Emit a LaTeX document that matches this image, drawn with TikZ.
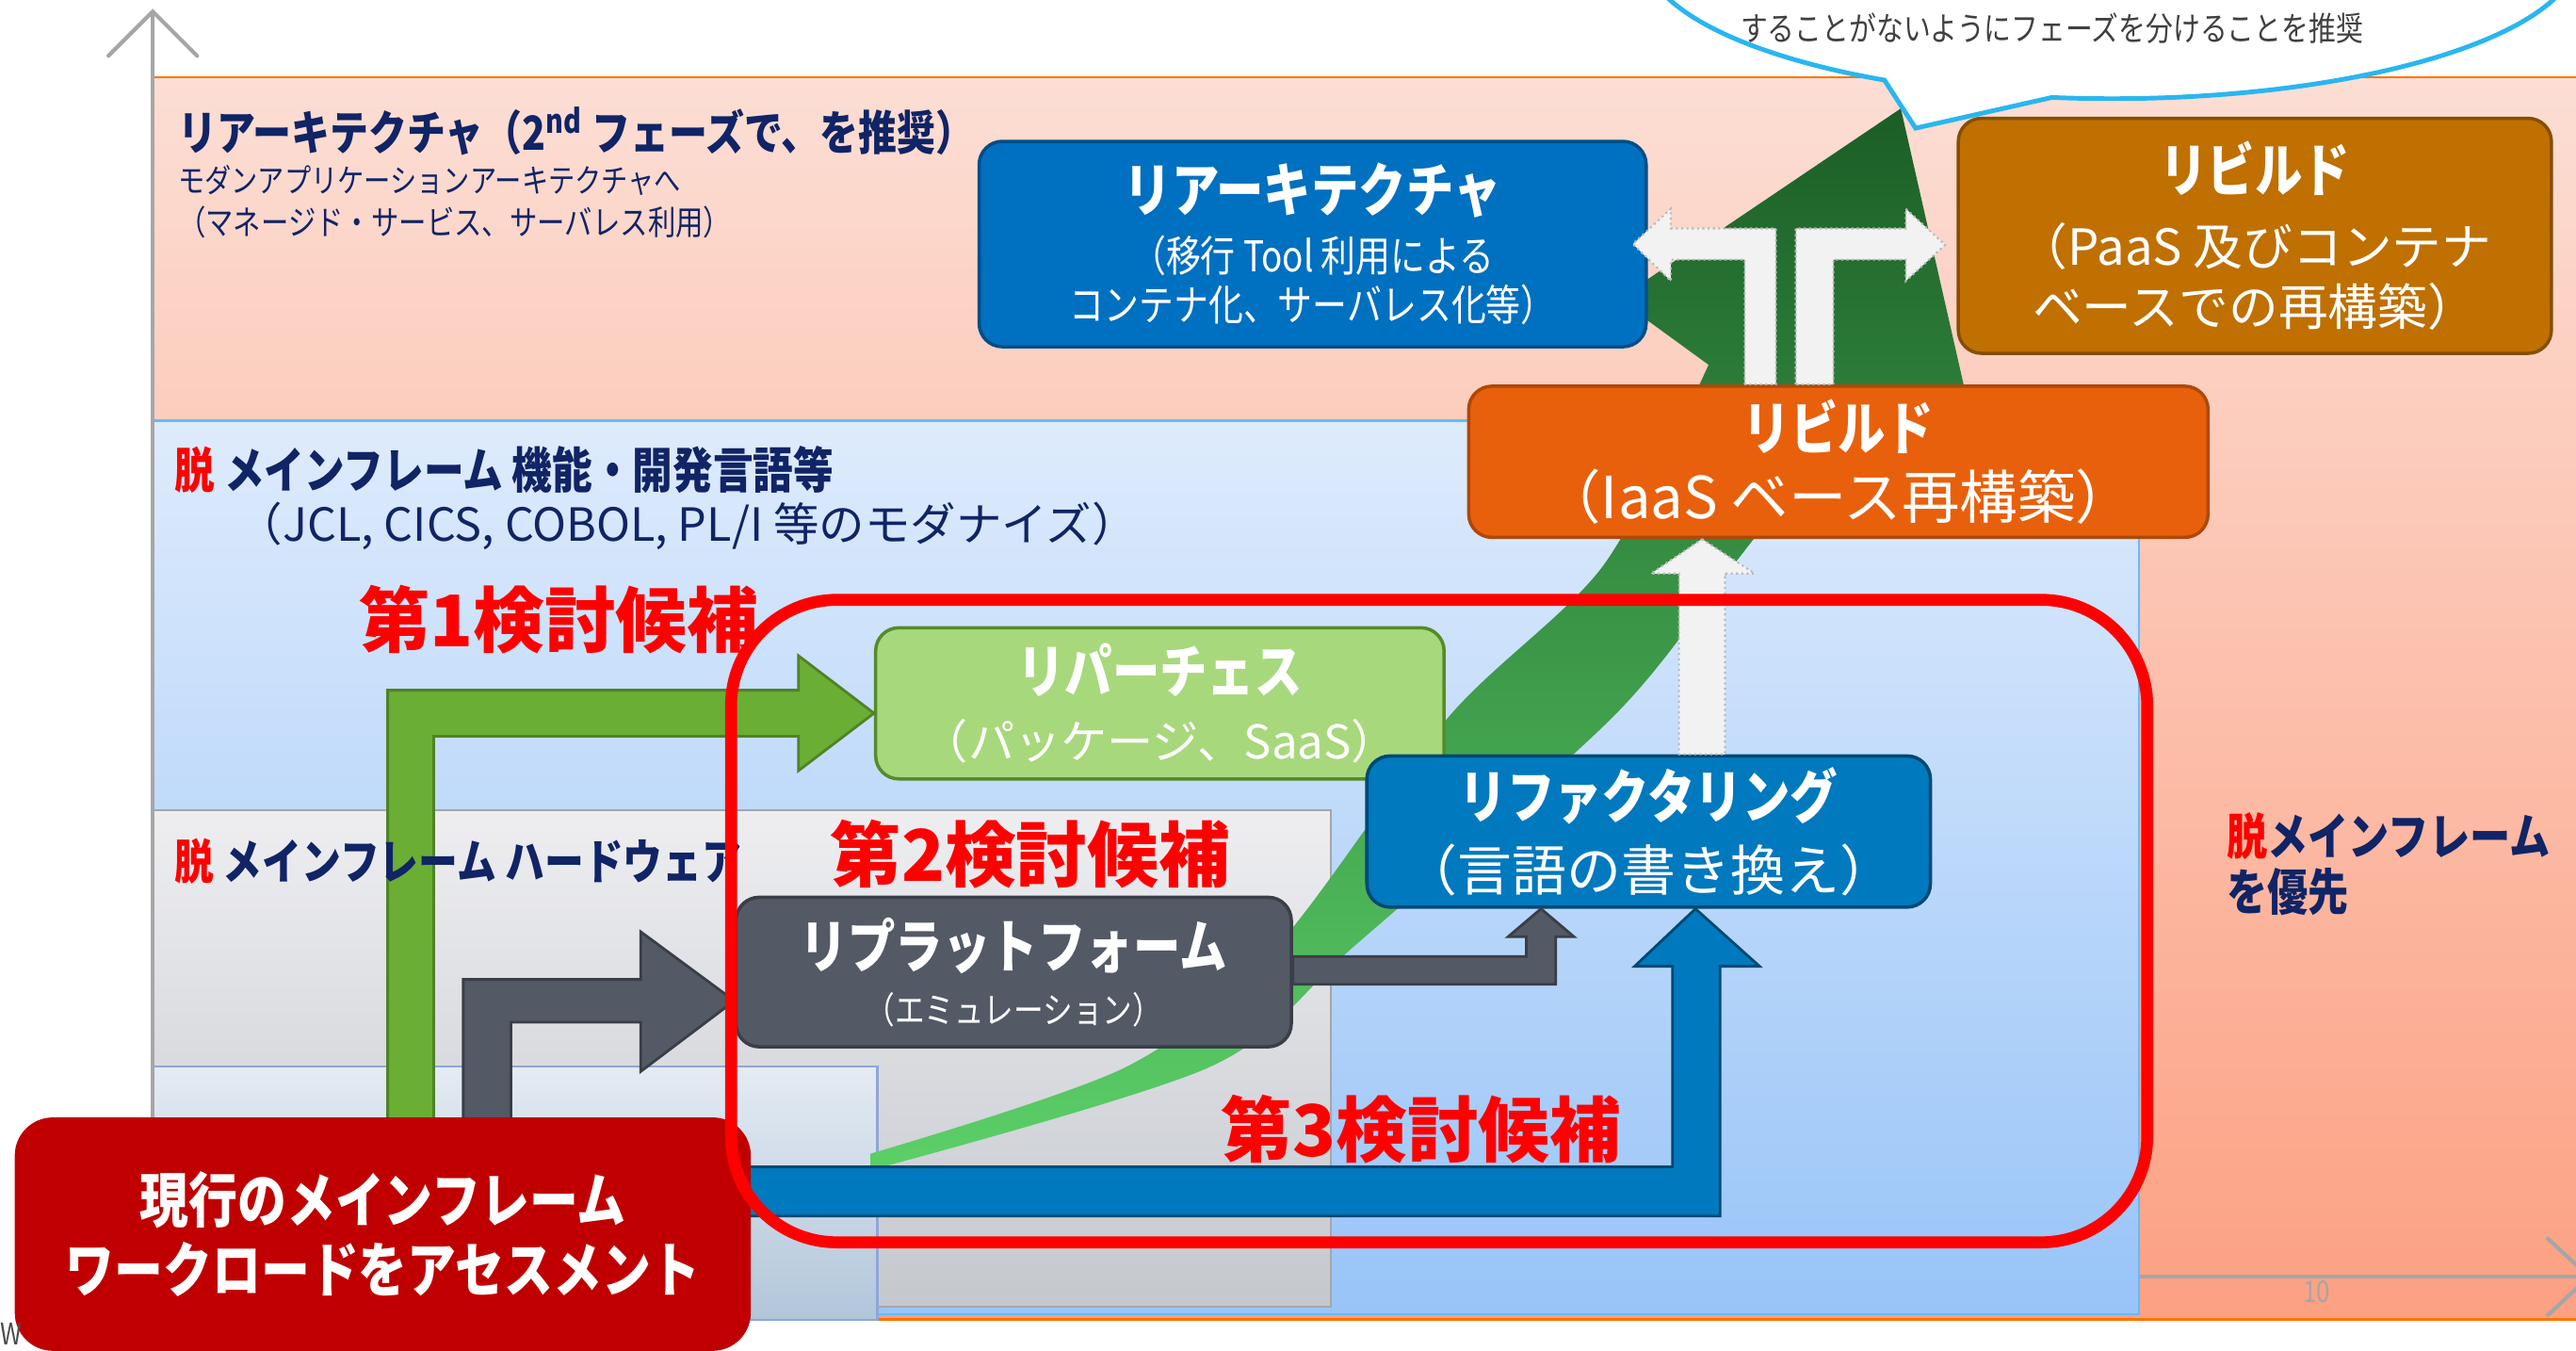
\documentclass[tikz,border=0pt]{standalone}
\usepackage{fontspec}
\setmainfont{Noto Sans CJK JP}[FakeStretch=0.82]
\newfontfamily\widejp{Noto Sans CJK JP}
\usetikzlibrary{positioning}

\definecolor{navy}{RGB}{16,36,102}
\definecolor{reablue}{RGB}{0,112,192}
\definecolor{paasgold}{RGB}{191,112,0}
\definecolor{iaasorange}{RGB}{232,96,12}
\definecolor{repgreen}{RGB}{168,216,124}
\definecolor{rplgrey}{RGB}{83,89,101}
\definecolor{refblue}{RGB}{0,121,190}
\definecolor{curred}{RGB}{192,0,0}
\definecolor{arrgreen}{RGB}{106,174,52}
\definecolor{callblue}{RGB}{41,182,240}
\definecolor{axisgrey}{RGB}{166,166,166}
\definecolor{whitearr}{RGB}{242,242,242}
\definecolor{sweeplight}{RGB}{92,208,104}
\definecolor{sweepmid}{RGB}{60,158,72}
\definecolor{sweepdark}{RGB}{27,94,39}
\definecolor{pinktop}{RGB}{252,222,212}
\definecolor{pinkbot}{RGB}{252,160,130}
\definecolor{bluetop}{RGB}{222,235,252}
\definecolor{bluebot}{RGB}{152,196,248}
\definecolor{greytop}{RGB}{238,238,241}
\definecolor{greybot}{RGB}{196,200,206}
\definecolor{lighttop}{RGB}{228,235,243}
\definecolor{lightbot}{RGB}{178,198,218}

\newlength\unitpx
\setlength\unitpx{0.017443cm}
\newcommand\fs[2]{\fontsize{#1}{#2}\selectfont}
\newcommand\boxtitle[1]{{\rmfamily\bfseries\fs{17.5}{20}#1}}

\begin{document}
\begin{tikzpicture}[x=0.017443cm, y=-0.017443cm,
    box/.style={rounded corners=7pt, line width=1pt, text=white, align=center, inner sep=0pt},
    boxsize/.style 2 args={minimum width=#1*\unitpx, minimum height=#2*\unitpx},
    band/.style={anchor=west, text=navy, inner sep=0pt},
    pick/.style={text=red, font=\widejp\bfseries\fs{21.5}{24}},
    blockarrow/.style={line width=0.8pt, line join=miter},
    whitearrow/.style={fill=whitearr, draw=gray!55, line width=0.6pt, densely dotted}]
    \useasboundingbox (0,0) rectangle (1568,822);

    % background bands
    \shade[top color=pinktop, bottom color=pinkbot] (93,47) rectangle (1568,803);
    \draw[orange!90!red, line width=0.8pt] (93,47) -- (1568,47);
    \draw[orange!90!red, line width=0.8pt] (93,803) -- (1568,803);
    \draw[axisgrey, line width=1.2pt] (93,777) -- (1580,777);
    \draw[axisgrey, line width=1.2pt] (1550,753) -- (1576,777) -- (1550,801);
    \shade[top color=bluetop, bottom color=bluebot, draw=blue!45!cyan!60, line width=0.6pt] (93,256) rectangle (1302,800);
    \shade[top color=greytop, bottom color=greybot, draw=gray!70, line width=0.6pt] (93,493) rectangle (810,795);
    \shade[top color=lighttop, bottom color=lightbot, draw=cyan!40!blue!45, line width=0.6pt] (93,649) rectangle (534,803);
    \draw[axisgrey, line width=1.2pt] (93,803) -- (93,8);
    \draw[axisgrey, line width=1.2pt, line cap=round] (66,34) -- (93,7) -- (120,34);

    % growth sweep
    \shade[top color=sweepdark, middle color=sweepmid, bottom color=sweeplight]
        plot[smooth] coordinates {(530,712) (737,649) (824,576) (982,436) (1055,344) (1118,262)}
        -- (1200,255) -- (1157,66) -- (985,182) -- (1040,222)
        -- plot[smooth] coordinates {(1040,222) (976,344) (882,436) (777,576) (686,649) (530,702)} -- cycle;

    % options
    \node[box, boxsize={406}{125}, fill=reablue, draw=reablue!70!black, font=\fs{12.8}{14.8}] (rea) at (799,148.5)
        {\boxtitle{リアーキテクチャ}\\[3.5pt] （移行 Tool 利用による\\ コンテナ化、サーバレス化等）};
    \node[box, boxsize={361}{143}, fill=paasgold, draw=paasgold!70!black, font=\widejp\fs{15}{18.3}] (rbp) at (1372.5,143.5)
        {\boxtitle{リビルド}\\[4pt] （PaaS 及びコンテナ\\ ベースでの再構築）};
    \node[box, boxsize={450}{92}, fill=iaasorange, draw=iaasorange!75!black, font=\widejp\fs{17.5}{20.8}] (rbi) at (1119,281)
        {\boxtitle{リビルド}\\ （IaaS ベース再構築）};
    \node[box, boxsize={346}{92}, fill=repgreen, draw=arrgreen!80!black, font=\widejp\fs{14}{19.8}] (rep) at (706,428)
        {\boxtitle{リパーチェス}\\ （パッケージ、SaaS）};
    \node[box, boxsize={338}{91}, fill=rplgrey, draw=rplgrey!70!black, font=\fs{11}{16.8}] (rpl) at (617,591.5)
        {\boxtitle{リプラットフォーム}\\ （エミュレーション）};
    \node[box, boxsize={343}{92}, fill=refblue, draw=refblue!60!black, font=\widejp\fs{16.5}{21.8}] (ref) at (1003.5,506)
        {\boxtitle{リファクタリング}\\ （言語の書き換え）};

    % block arrows
    \filldraw[blockarrow, fill=arrgreen, draw=arrgreen!75!black] (rep.west |- 0,434) -- (486,399) -- (486,420) -- (236,420)
        -- (236,682) -- (264,682) -- (264,448) -- (486,448) -- (486,469) -- cycle;
    \filldraw[blockarrow, fill=rplgrey, draw=rplgrey!70!black] (rpl.west |- 0,609) -- (390,567) -- (390,596) -- (282,596)
        -- (282,682) -- (311,682) -- (311,622) -- (390,622) -- (390,652) -- cycle;
    \filldraw[blockarrow, fill=rplgrey, draw=rplgrey!70!black] (rpl.east |- 0,582) -- (929,582) -- (929,570) -- (918,570)
        -- (938,0 |- ref.south) -- (958,570) -- (947,570) -- (947,599) -- (rpl.east |- 0,599) -- cycle;
    \filldraw[blockarrow, fill=refblue, draw=refblue!60!black] (456,710) -- (1018,710) -- (1018,588) -- (995,588)
        -- (1032,0 |- ref.south) -- (1071,588) -- (1047,588) -- (1047,740) -- (456,740) -- cycle;
    \filldraw[whitearrow] (1036,0 |- rbi.south) -- (1068,349) -- (1050,349) -- (1050,0 |- ref.north)
        -- (1022,0 |- ref.north) -- (1022,349) -- (1005,349) -- cycle;
    \filldraw[whitearrow] (1062,0 |- rbi.north) -- (1062,158) -- (1017,158) -- (1017,171) -- ([xshift=-4.5pt]rea.east)
        -- (1017,127) -- (1017,139) -- (1081,139) -- (1081,0 |- rbi.north) -- cycle;
    \filldraw[whitearrow] (1093,0 |- rbi.north) -- (1093,139) -- (1160,139) -- (1160,127) -- (1184,149)
        -- (1160,171) -- (1160,158) -- (1116,158) -- (1116,0 |- rbi.north) -- cycle;

    \node[box, rounded corners=11pt, boxsize={446}{140}, fill=curred, draw=curred, font=\bfseries\fs{18}{21.3}] (cur) at (233,751)
        {現行のメインフレーム\\ ワークロードをアセスメント};

    % labels
    \node[band, font=\bfseries\fs{14.2}{16}] (phase) at (108,80) {リアーキテクチャ（2\textsuperscript{nd} フェーズで、を推奨）};
    \node[band, font=\fs{9.8}{12}] (phasesub) at (108,110) {モダンアプリケーションアーキテクチャへ};
    \node[band, font=\fs{10.2}{12}] (phasenote) at (108,135) {（マネージド・サービス、サーバレス利用）};
    \node[band, font=\bfseries\fs{14.8}{16}] (funclbl) at (106,286) {\textcolor{red}{脱} メインフレーム 機能・開発言語等};
    \node[band, font=\widejp\fs{13.8}{16}] (funcsub) at (144,320) {（JCL, CICS, COBOL, PL/I 等のモダナイズ）};
    \node[band, font=\bfseries\fs{14.5}{16}] (hwlbl) at (106,524) {\textcolor{red}{脱} メインフレーム ハードウェア};
    \node[band, font=\bfseries\fs{15}{16.8}, align=left] (prio) at (1355,526) {\textcolor{red}{脱}メインフレーム\\を優先};

    \node[pick] (pick1) at (340,377) {第1検討候補};
    \node[pick] (pick2) at (627,520) {第2検討候補};
    \node[pick] (pick3) at (865,687) {第3検討候補};

    % candidate frame
    \draw[red, line width=3.6pt, rounded corners=32pt] (445,365) rectangle (1307,756);

    % callout
    \coordinate (calltip) at (1166,78);
    \filldraw[fill=white, draw=callblue, line width=1.4pt] (calltip) -- (1249,59.3)
        arc[start angle=97.3, end angle=-241, x radius=285, y radius=90] -- cycle;
    \node[text=black!75, font=\fs{10}{12}] (callnote) at (1249,17) {することがないようにフェーズを分けることを推奨};

    \node[text=axisgrey, font=\fs{9}{10}] (pageno) at (1410,786) {10};
    \node[text=black!70, font=\fs{9}{10}] (wmark) at (7,812) {W};
\end{tikzpicture}
\end{document}
